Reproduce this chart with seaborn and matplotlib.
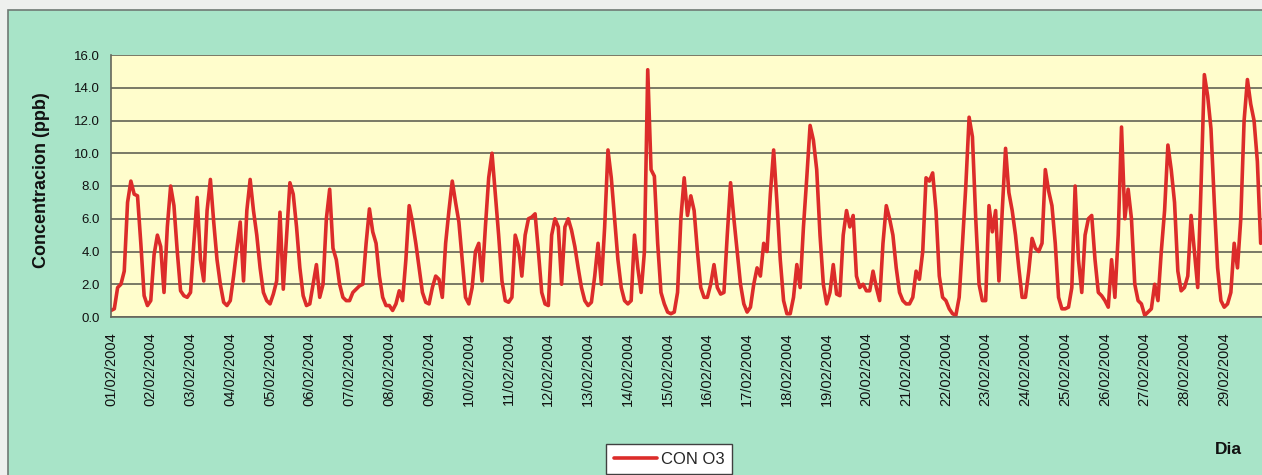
import numpy as np
import pandas as pd
import matplotlib
matplotlib.use("Agg")
import matplotlib.pyplot as plt
import seaborn as sns
from matplotlib.patches import Rectangle

# Concentracion de O3 (ppb), un valor cada 2 horas (00h, 02h, ... 22h) por dia
d01 = [0.4, 0.5, 1.8, 2.0, 2.8, 7.0, 8.3, 7.5, 7.4, 4.5, 1.3, 0.7]
d02 = [1.0, 3.8, 5.0, 4.3, 1.5, 5.5, 8.0, 6.8, 4.0, 1.6, 1.3, 1.2]
d03 = [1.5, 4.5, 7.3, 3.5, 2.2, 6.5, 8.4, 5.8, 3.5, 2.0, 0.9, 0.7]
d04 = [1.0, 2.5, 4.2, 5.8, 2.2, 6.5, 8.4, 6.5, 5.0, 3.0, 1.5, 1.0]
d05 = [0.8, 1.4, 2.2, 6.4, 1.7, 5.0, 8.2, 7.5, 5.5, 3.0, 1.3, 0.7]
d06 = [0.8, 2.0, 3.2, 1.2, 2.0, 6.0, 7.8, 4.2, 3.5, 2.0, 1.2, 1.0]
d07 = [1.0, 1.5, 1.7, 1.9, 2.0, 4.5, 6.6, 5.2, 4.5, 2.5, 1.2, 0.7]
d08 = [0.7, 0.4, 0.8, 1.6, 1.0, 3.5, 6.8, 5.8, 4.5, 3.0, 1.5, 0.9]
d09 = [0.8, 1.8, 2.5, 2.3, 1.2, 4.5, 6.5, 8.3, 7.0, 5.8, 3.5, 1.2]
d10 = [0.8, 1.8, 4.0, 4.5, 2.2, 5.5, 8.5, 10.0, 7.5, 5.0, 2.2, 1.0]
d11 = [0.9, 1.2, 5.0, 4.3, 2.5, 5.0, 6.0, 6.1, 6.3, 4.0, 1.5, 0.8]
d12 = [0.7, 5.0, 6.0, 5.5, 2.0, 5.5, 6.0, 5.3, 4.3, 3.0, 1.8, 1.0]
d13 = [0.7, 0.9, 2.5, 4.5, 2.0, 5.5, 10.2, 8.5, 6.0, 3.5, 1.8, 1.0]
d14 = [0.8, 1.0, 5.0, 3.0, 1.5, 4.0, 15.1, 9.0, 8.6, 4.5, 1.5, 0.8]
d15 = [0.3, 0.2, 0.3, 1.5, 6.0, 8.5, 6.2, 7.4, 6.5, 4.0, 1.8, 1.2]
d16 = [1.2, 2.0, 3.2, 1.8, 1.4, 1.5, 5.0, 8.2, 6.0, 4.0, 2.0, 0.8]
d17 = [0.3, 0.6, 2.0, 3.0, 2.5, 4.5, 4.0, 7.5, 10.2, 7.0, 3.5, 1.0]
d18 = [0.2, 0.2, 1.2, 3.2, 1.8, 5.5, 8.5, 11.7, 10.8, 9.0, 5.0, 2.0]
d19 = [0.8, 1.5, 3.2, 1.4, 1.3, 5.0, 6.5, 5.5, 6.2, 2.5, 1.8, 2.0]
d20 = [1.6, 1.6, 2.8, 1.8, 1.0, 4.5, 6.8, 6.0, 5.0, 3.0, 1.5, 1.0]
d21 = [0.8, 0.8, 1.2, 2.8, 2.3, 4.0, 8.5, 8.3, 8.8, 6.5, 2.5, 1.2]
d22 = [1.0, 0.5, 0.2, 0.1, 1.2, 4.5, 8.0, 12.2, 11.0, 6.0, 2.0, 1.0]
d23 = [1.0, 6.8, 5.2, 6.5, 2.2, 6.5, 10.3, 7.6, 6.5, 5.0, 3.0, 1.2]
d24 = [1.2, 2.8, 4.8, 4.2, 4.0, 4.5, 9.0, 7.7, 6.8, 4.5, 1.2, 0.5]
d25 = [0.5, 0.6, 1.8, 8.0, 3.5, 1.5, 5.0, 6.0, 6.2, 3.5, 1.5, 1.3]
d26 = [1.0, 0.6, 3.5, 1.2, 5.0, 11.6, 6.0, 7.8, 6.0, 2.0, 1.0, 0.8]
d27 = [0.1, 0.3, 0.5, 2.0, 1.0, 4.0, 6.5, 10.5, 9.0, 7.0, 2.8, 1.6]
d28 = [1.8, 2.5, 6.2, 4.0, 1.8, 8.0, 14.8, 13.5, 11.5, 7.0, 3.0, 1.0]
d29 = [0.6, 0.8, 1.5, 4.5, 3.0, 6.0, 12.0, 14.5, 13.0, 12.0, 9.5, 4.5]

fechas = ["01/02/2004", "02/02/2004", "03/02/2004", "04/02/2004", "05/02/2004",
          "06/02/2004", "07/02/2004", "08/02/2004", "09/02/2004", "10/02/2004",
          "11/02/2004", "12/02/2004", "13/02/2004", "14/02/2004", "15/02/2004",
          "16/02/2004", "17/02/2004", "18/02/2004", "19/02/2004", "20/02/2004",
          "21/02/2004", "22/02/2004", "23/02/2004", "24/02/2004", "25/02/2004",
          "26/02/2004", "27/02/2004", "28/02/2004", "29/02/2004"]
yticks = [0, 2, 4, 6, 8, 10, 12, 14, 16]

dias = [d01, d02, d03, d04, d05, d06, d07, d08, d09, d10, d11, d12, d13, d14,
        d15, d16, d17, d18, d19, d20, d21, d22, d23, d24, d25, d26, d27, d28, d29]
conc = np.concatenate(dias)
df = pd.DataFrame({"dia": np.arange(len(conc)) * 2 / 24.0, "conc": conc})

sns.set_theme(style="white")
plt.rcParams["font.family"] = ["Liberation Sans", "DejaVu Sans"]

W, H = 1262, 475
fig = plt.figure(figsize=(W / 100, H / 100), dpi=100)
fig.patch.set_facecolor("#eef0ee")
fondo = Rectangle((8 / W, -0.1), 1.2, 1.1 - 10 / H, transform=fig.transFigure,
                  facecolor="#a8e4c8", edgecolor="#6f7a74", lw=1.2, zorder=-10)
fig.add_artist(fondo)

ax = fig.add_axes([111 / W, 1 - 317 / H, 1 - 111 / W, (317 - 55) / H])
ax.set_zorder(1)
ax.set_facecolor("#fffdcc")

sns.lineplot(data=df, x="dia", y="conc", ax=ax, color="#dc2c2a", lw=2.6, label="CON O3")

ax.set_ylim(0, 16)
ax.set_xlim(0, 28.95)
ax.set_yticks(yticks)
ax.set_yticklabels([f"{v:.1f}" for v in yticks], fontsize=9.5)
ax.set_xticks(range(len(fechas)))
ax.set_xticklabels(fechas, rotation=90, fontsize=10.5, va="top", ha="center")
ax.tick_params(axis="both", which="major", direction="out", length=5, width=1,
               color="#333333", labelcolor="#111111", pad=4)
ax.tick_params(axis="x", pad=6)
ax.tick_params(axis="y", pad=3)
ax.grid(False)
ax.yaxis.grid(True, color="#55554a", lw=1.1)
for s in ["top", "right"]:
    ax.spines[s].set_visible(False)
for s in ["left", "bottom"]:
    ax.spines[s].set_color("#66665c")
    ax.spines[s].set_linewidth(1.2)

ax.set_xlabel("")
ax.set_ylabel("Concentracion (ppb)", fontsize=13, fontweight="bold", color="#111111")
ax.yaxis.set_label_coords((50 - 111) / (W - 111), (317 - 180) / 262)

leg = ax.legend(loc="upper center", bbox_to_anchor=(669 / W, 1 - 444 / H),
                bbox_transform=fig.transFigure, borderaxespad=0, fontsize=12,
                frameon=True, fancybox=False, framealpha=1, facecolor="white",
                edgecolor="#404040", handlelength=2.6, handletextpad=0.2,
                borderpad=0.45)
leg.get_frame().set_linewidth(1.0)

fig.text(1228 / W, 1 - 450 / H, "Dia", ha="center", va="center",
         fontsize=12.5, fontweight="bold", color="#111111")

fig.savefig("out.png", dpi=100, facecolor=fig.get_facecolor())
